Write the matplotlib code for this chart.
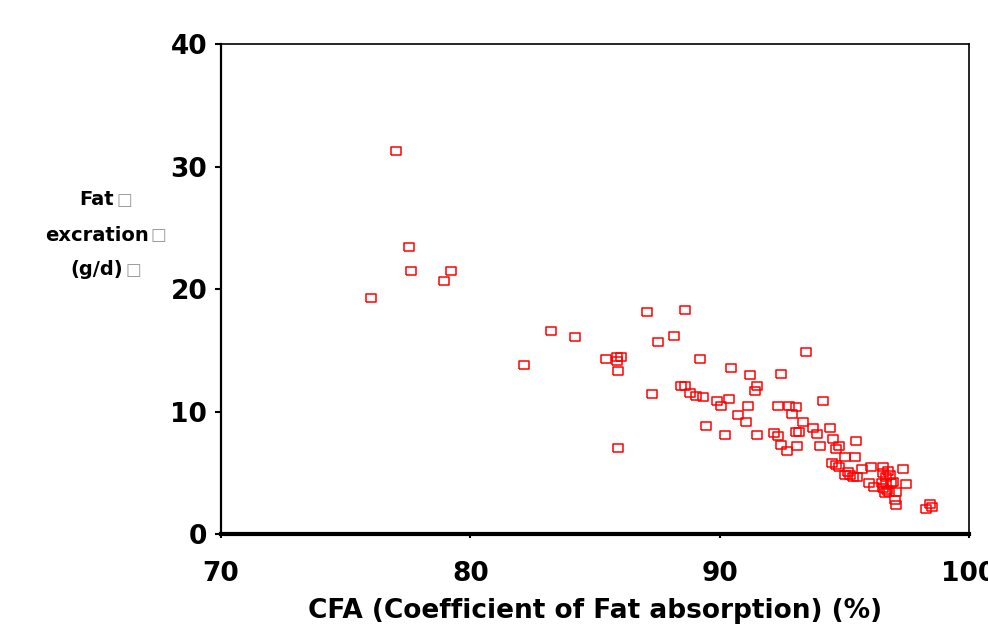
import matplotlib
matplotlib.use("Agg")
import matplotlib.pyplot as plt

# CFA (%) and fat excretion (g/d)
cfa = [76.00, 77.01, 77.53, 77.61, 78.93, 79.24, 82.15, 83.22, 84.21, 85.44,
       85.87, 86.03, 85.90, 85.91, 85.91, 87.08, 88.61, 87.54, 88.17, 89.21,
       90.45, 91.22, 92.45, 91.51, 91.43, 87.29, 88.44, 88.60, 88.82, 89.05,
       89.35, 89.90, 90.06, 90.37, 91.13, 90.75, 91.06, 89.45, 90.20, 91.51,
       92.34, 92.76, 93.05, 92.89, 92.18, 92.34, 93.06, 93.17, 92.45, 93.10,
       92.69, 93.45, 94.14, 93.36, 93.73, 94.43, 93.89, 94.54, 94.03, 94.80,
       94.67, 95.47, 95.04, 95.44, 94.50, 94.67, 94.80, 95.16, 95.23, 95.36,
       95.52, 95.02, 95.69, 96.06, 96.53, 96.74, 96.56, 96.85, 95.97, 96.20,
       96.50, 96.67, 96.54, 96.70, 96.87, 97.06, 96.81, 96.64, 97.04, 97.08,
       97.34, 96.65, 96.97, 97.48, 98.28, 98.44, 98.51]
fat = [19.30, 31.29, 23.46, 21.50, 20.66, 21.50, 13.78, 16.58, 16.07, 14.32,
       14.49, 14.49, 14.16, 13.30, 7.06, 18.13, 18.32, 15.69, 16.20, 14.32,
       13.56, 12.99, 13.10, 12.12, 11.71, 11.44, 12.10, 12.10, 11.53, 11.26,
       11.17, 10.90, 10.46, 11.01, 10.46, 9.71, 9.14, 8.81, 8.12, 8.12,
       10.46, 10.46, 10.36, 9.81, 8.24, 8.02, 8.37, 8.37, 7.31, 7.20,
       6.79, 14.89, 10.87, 9.14, 8.65, 8.65, 8.16, 7.75, 7.20, 7.20,
       6.93, 7.61, 6.33, 6.33, 5.79, 5.65, 5.46, 5.11, 4.84, 4.65,
       4.65, 4.84, 5.33, 5.46, 5.46, 5.19, 4.98, 4.84, 4.21, 3.88,
       4.21, 4.21, 3.75, 3.61, 4.21, 3.47, 3.47, 3.39, 2.80, 2.39,
       5.35, 4.70, 4.27, 4.08, 2.04, 2.47, 2.25]

x_ticks = [70, 80, 90, 100]
y_ticks = [0, 10, 20, 30, 40]
ylabel_lines = ['Fat', 'excration', '(g/d)']

plt.rcParams['font.family'] = ['DejaVu Sans']

fig = plt.figure(figsize=(9.88, 6.26), dpi=100)
ax = fig.add_axes([0.2237, 0.1465, 0.7571, 0.7832])

# wide hollow rectangle marker
box = [(-1.3, -1), (1.3, -1), (1.3, 1), (-1.3, 1), (-1.3, -1)]
ax.plot(cfa, fat, linestyle='none', marker=box, markersize=7,
        markerfacecolor='none', markeredgecolor='#ff0000', markeredgewidth=1.1)

ax.set_xlim(70, 100)
ax.set_ylim(0, 40)
ax.set_xticks(x_ticks)
ax.set_yticks(y_ticks)
ax.set_xticklabels([str(t) for t in x_ticks], fontsize=19, fontweight='bold')
ax.set_yticklabels([str(t) for t in y_ticks], fontsize=19, fontweight='bold')
ax.tick_params(axis='x', length=3, width=1.5, pad=16)
ax.tick_params(axis='y', length=4, width=1.5, pad=6)

ax.spines['bottom'].set_linewidth(3)
ax.spines['left'].set_linewidth(1.6)
ax.spines['top'].set_linewidth(1.2)
ax.spines['right'].set_linewidth(1.2)

ax.set_xlabel('CFA (Coefficient of Fat absorption) (%)', fontsize=19,
              fontweight='bold', labelpad=8)

# y label: three centred lines, each followed by a grey box glyph
fig.canvas.draw()
for i, line in enumerate(ylabel_lines):
    yy = 1 - (200 + 35 * i) / 626
    t = fig.text(0.098, yy, line, ha='center', va='center',
                 fontsize=14, fontweight='bold')
    bb = t.get_window_extent(renderer=fig.canvas.get_renderer())
    fig.text((bb.x1 + 2) / fig.bbox.width, yy, '\u25a1', ha='left',
             va='center', fontsize=12, color='#999999')

fig.savefig('out.png', dpi=100)
